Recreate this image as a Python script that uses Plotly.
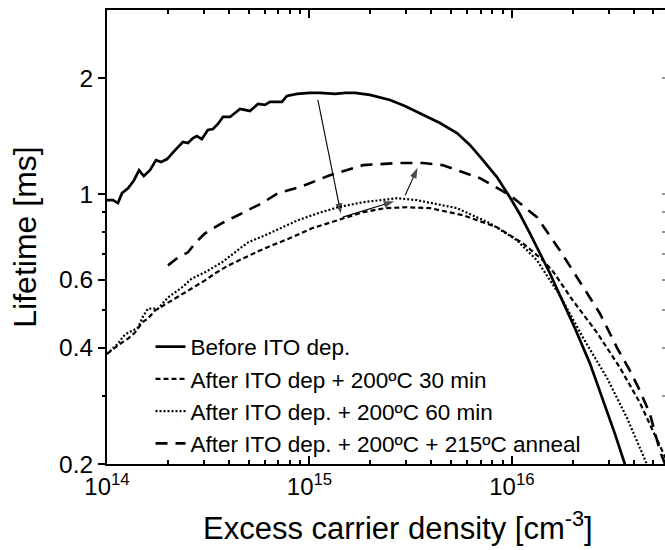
import numpy as np
import plotly.graph_objects as go

# ---------------- data ----------------
before_n = [1.00e14, 1.07e14, 1.133e14, 1.186e14, 1.27e14, 1.36e14, 1.44e14, 1.52e14, 1.63e14, 1.746e14,
            1.85e14, 1.98e14, 2.17e14, 2.37e14, 2.51e14, 2.66e14, 2.78e14, 2.94e14, 3.15e14, 3.34e14,
            3.53e14, 3.74e14, 4.05e14, 4.54e14, 5.08e14, 5.57e14, 6.03e14, 6.38e14, 7.31e14, 7.74e14,
            8.68e14, 1.0e15, 1.13e15, 1.34e15, 1.50e15, 1.68e15, 1.99e15, 2.50e15, 2.96e15, 3.51e15,
            4.41e15, 5.35e15, 6.20e15, 7.19e15, 8.43e15, 9.77e15, 1.095e16, 1.227e16, 1.375e16, 1.54e16,
            1.726e16, 2.05e16, 2.43e16, 2.88e16, 3.23e16, 3.61e16, 3.91e16]
before_tau = [0.965, 0.965, 0.948, 1.006, 1.036, 1.087, 1.154, 1.114, 1.154, 1.225,
              1.211, 1.233, 1.301, 1.365, 1.357, 1.398, 1.414, 1.389, 1.466, 1.475,
              1.52, 1.585, 1.585, 1.663, 1.643, 1.713, 1.703, 1.734, 1.734, 1.797,
              1.819, 1.829, 1.829, 1.819, 1.829, 1.829, 1.808, 1.754, 1.692, 1.623,
              1.529, 1.44, 1.341, 1.225, 1.107, 0.982, 0.887, 0.792, 0.703, 0.624,
              0.547, 0.449, 0.364, 0.283, 0.239, 0.200, 0.183]

min30_n = [1.00e14, 1.095e14, 1.186e14, 1.27e14, 1.375e14, 1.489e14, 1.594e14, 1.726e14, 1.89e14, 2.094e14,
           2.428e14, 2.72e14, 3.048e14, 3.415e14, 3.825e14, 4.287e14, 4.80e14, 5.57e14, 6.53e14, 8.20e14,
           1.029e15, 1.382e15, 1.838e15, 2.36e15, 3.03e15, 3.94e15, 5.73e15, 8.43e15, 1.133e16, 1.422e16,
           1.594e16, 2.001e16, 2.63e16, 3.415e16, 4.287e16, 4.97e16, 5.89e16]
min30_tau = [0.386, 0.4005, 0.4127, 0.4226, 0.438, 0.465, 0.4764, 0.4995, 0.5147, 0.5304,
             0.5564, 0.5768, 0.5979, 0.6235, 0.6463, 0.666, 0.686, 0.711, 0.737, 0.773,
             0.816, 0.856, 0.898, 0.920, 0.925, 0.920, 0.882, 0.821, 0.746, 0.674,
             0.631, 0.530, 0.438, 0.3553, 0.2882, 0.2438, 0.2013]

min60_n = [1.00e14, 1.059e14, 1.133e14, 1.2e14, 1.27e14, 1.344e14, 1.423e14, 1.506e14, 1.594e14, 1.786e14,
           2.001e14, 2.346e14, 2.63e14, 3.048e14, 3.698e14, 4.287e14, 4.97e14, 6.03e14, 7.31e14, 8.77e14,
           1.101e15, 1.382e15, 1.838e15, 2.705e15, 3.396e15, 5.35e15, 7.79e15, 1.059e16, 1.329e16, 1.726e16,
           2.242e16, 2.944e16, 3.698e16, 4.642e16, 4.915e16]
min60_tau = [0.386, 0.398, 0.410, 0.4276, 0.438, 0.4432, 0.4514, 0.4821, 0.5055, 0.5055,
             0.5401, 0.5734, 0.6051, 0.6273, 0.666, 0.707, 0.7503, 0.7824, 0.821, 0.856,
             0.8926, 0.925, 0.9533, 0.9763, 0.965, 0.920, 0.8408, 0.7594, 0.674, 0.5465,
             0.4251, 0.3346, 0.2635, 0.2013, 0.1862]

anneal_n = [2.001e14, 2.216e14, 2.512e14, 2.72e14, 3.048e14, 3.698e14, 4.436e14, 4.97e14, 5.83e14, 6.99e14,
            8.98e14, 1.262e15, 1.838e15, 2.705e15, 3.636e15, 4.564e15, 6.95e15, 9.77e15, 1.329e16, 1.726e16,
            2.094e16, 2.72e16, 3.3e16, 3.825e16, 4.287e16, 4.80e16, 5.38e16, 5.83e16]
anneal_tau = [0.654, 0.682, 0.707, 0.746, 0.792, 0.841, 0.882, 0.909, 0.948, 1.006,
              1.043, 1.12, 1.189, 1.204, 1.204, 1.189, 1.10, 0.994, 0.872, 0.715,
              0.609, 0.491, 0.4005, 0.349, 0.3097, 0.27, 0.2163, 0.1942]

series_names = ["Before ITO dep.", "After ITO dep + 200ºC 30 min",
                "After ITO dep. + 200ºC 60 min", "After ITO dep. + 200ºC + 215ºC anneal"]

# arrows: tail (n, tau) -> head (n, tau)
arrow_tail_n = [1.10e15, 1.46e15, 2.97e15]
arrow_tail_tau = [1.754, 0.872, 0.994]
arrow_head_n = [1.43e15, 2.62e15, 3.42e15]
arrow_head_tau = [0.89, 0.958, 1.17]

x_ticks = [1e14, 1e15, 1e16]
x_ticktext = ["10<sup>14</sup>", "10<sup>15</sup>", "10<sup>16</sup>"]
x_minor = [m * 10 ** e for e in (14, 15, 16) for m in range(2, 10) if m * 10 ** e < 6e16]
y_ticks = [0.2, 0.4, 0.6, 1, 2]
y_ticktext = ["0.2", "0.4", "0.6", "1", "2"]
y_minor = [0.3, 0.5, 0.7, 0.8, 0.9]

x_title = "Excess carrier density [cm<sup>-3</sup>]"
y_title = "Lifetime [ms]"

FONT = "Liberation Sans, Arial, sans-serif"
X_RANGE = [14, 16.756]
Y_RANGE = [np.log10(0.2), np.log10(3.0)]

fig = go.Figure()
styles = [dict(dash="solid", width=2.7),
          dict(dash="5px,3px", width=2.2),
          dict(dash="2px,2px", width=2.2),
          dict(dash="12px,8px", width=2.6)]
data = [(before_n, before_tau), (min30_n, min30_tau), (min60_n, min60_tau), (anneal_n, anneal_tau)]
for (xs, ys), name, st in zip(data, series_names, styles):
    fig.add_trace(go.Scatter(x=xs, y=ys, mode="lines", name=name,
                             line=dict(color="black", **st), legendgroup=name))

for tn, tt, hn, ht in zip(arrow_tail_n, arrow_tail_tau, arrow_head_n, arrow_head_tau):
    fig.add_trace(go.Scatter(x=[tn, hn], y=[tt, ht], mode="lines+markers", showlegend=False,
                             hoverinfo="skip", line=dict(color="black", width=1.1),
                             marker=dict(symbol=["circle", "arrow"], size=[0, 11], color="black",
                                         angleref="previous", line=dict(width=0))))

# helper (empty) traces so the overlay tick axes are drawn
fig.add_trace(go.Scatter(x=[], y=[], xaxis="x2", yaxis="y3", showlegend=False, hoverinfo="skip"))
fig.add_trace(go.Scatter(x=[], y=[], xaxis="x", yaxis="y2", showlegend=False, hoverinfo="skip"))

fig.add_annotation(text=x_title, xref="paper", yref="paper", x=0.521, y=-0.088,
                   xanchor="center", yanchor="top", showarrow=False,
                   font=dict(size=31, family=FONT, color="black"))

fig.update_layout(
    width=665, height=550,
    margin=dict(l=107, r=0, t=10, b=86),
    paper_bgcolor="white", plot_bgcolor="white",
    font=dict(family=FONT, color="black", size=23),
    showlegend=True,
    legend=dict(x=0.078, y=0.305, xanchor="left", yanchor="top",
                bgcolor="rgba(0,0,0,0)", font=dict(size=22.5, family=FONT),
                tracegroupgap=0, traceorder="grouped", itemwidth=30),
    xaxis=dict(type="log", range=X_RANGE, showgrid=False, zeroline=False,
               showline=True, linecolor="black", linewidth=2, mirror="ticks",
               ticks="inside", ticklen=8, tickwidth=2, tickcolor="black",
               tickmode="array", tickvals=x_ticks, ticktext=x_ticktext,
               tickfont=dict(size=24, family=FONT)),
    xaxis2=dict(type="log", range=X_RANGE, overlaying="x", anchor="y", side="bottom",
                showgrid=False, zeroline=False, showline=False, showticklabels=False,
                mirror="ticks", ticks="inside", ticklen=4, tickwidth=2, tickcolor="black",
                tickmode="array", tickvals=x_minor),
    yaxis=dict(type="log", range=Y_RANGE, showgrid=False, zeroline=False,
               showline=True, linecolor="black", linewidth=2, mirror=False,
               ticks="outside", ticklen=7, tickwidth=2, tickcolor="black",
               tickmode="array", tickvals=y_ticks, ticktext=y_ticktext,
               tickfont=dict(size=24.5, family=FONT),
               title=dict(text=y_title, font=dict(size=32, family=FONT), standoff=13)),
    yaxis3=dict(type="log", range=Y_RANGE, overlaying="y", anchor="x2", side="left",
                showgrid=False, zeroline=False, showline=False, showticklabels=False,
                ticks="outside", ticklen=4, tickwidth=2, tickcolor="black",
                tickmode="array", tickvals=y_minor),
    yaxis2=dict(type="log", range=Y_RANGE, overlaying="y", anchor="x", side="right",
                showgrid=False, zeroline=False, showline=False, showticklabels=False,
                ticks="inside", ticklen=3, tickwidth=2, tickcolor="#999",
                tickmode="array", tickvals=y_ticks + y_minor),
)

fig.write_html("out.html")
